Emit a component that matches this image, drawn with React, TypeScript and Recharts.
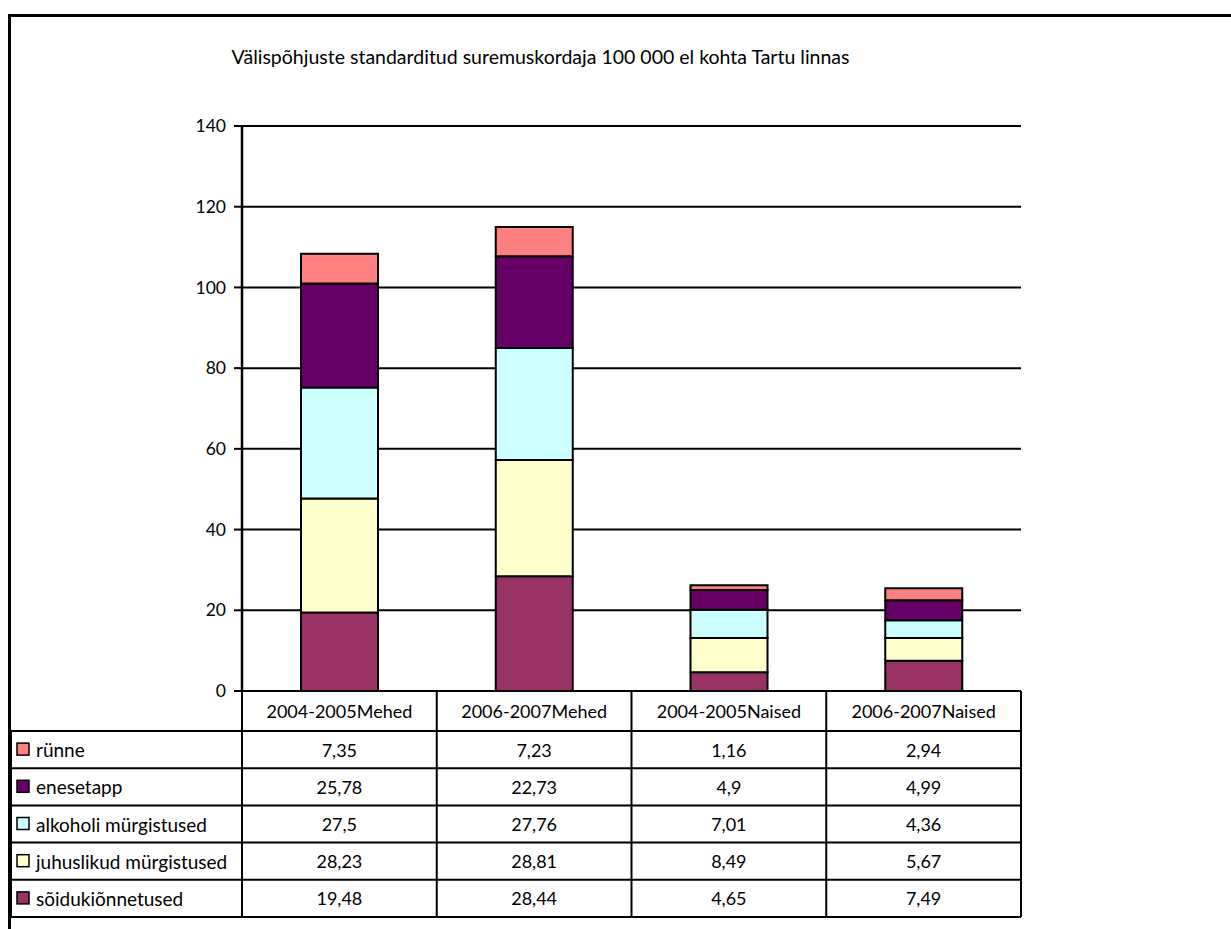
import React from "react";
import { BarChart, Bar, XAxis, YAxis, CartesianGrid } from "recharts";

const categories = ["2004-2005Mehed", "2006-2007Mehed", "2004-2005Naised", "2006-2007Naised"];
const runne = [7.35, 7.23, 1.16, 2.94];
const enesetapp = [25.78, 22.73, 4.9, 4.99];
const alkoholi = [27.5, 27.76, 7.01, 4.36];
const juhuslikud = [28.23, 28.81, 8.49, 5.67];
const soiduki = [19.48, 28.44, 4.65, 7.49];
const yTicks = [0, 20, 40, 60, 80, 100, 120, 140];

const seriesDefs = [
  { key: "runne", label: "rünne", values: runne, color: "#FF8080" },
  { key: "enesetapp", label: "enesetapp", values: enesetapp, color: "#660066" },
  { key: "alkoholi", label: "alkoholi mürgistused", values: alkoholi, color: "#CCFFFF" },
  { key: "juhuslikud", label: "juhuslikud mürgistused", values: juhuslikud, color: "#FFFFCC" },
  { key: "soiduki", label: "sõidukiõnnetused", values: soiduki, color: "#993366" },
];
const stackOrder = ["soiduki", "juhuslikud", "alkoholi", "enesetapp", "runne"];

const data = categories.map((name, i) => {
  const row: Record<string, number | string> = { name };
  seriesDefs.forEach((s) => (row[s.key] = s.values[i]));
  return row;
});

const FONT = "Lato, 'Noto Sans', sans-serif";
const W = 1231;
const H = 929;
const MARGIN = { top: 126, right: 210, bottom: 12, left: 182 };
const Y_AXIS_W = 60;
const X_AXIS_H = 226;
const PLOT_W = W - MARGIN.left - Y_AXIS_W - MARGIN.right;
const COL_W = PLOT_W / categories.length;
const PLOT_BOTTOM = H - MARGIN.bottom - X_AXIS_H;
const HEADER_H = 40;
const ROW_H = (X_AXIS_H - HEADER_H) / seriesDefs.length;
const TABLE_LEFT = 11;
const FS = 18;
const FS_LABEL = 19;

const fmt = (v: number) => String(v).replace(".", ",");

function TableTick(props: any) {
  const { x, payload, index } = props;
  const left = x - COL_W / 2;
  const right = x + COL_W / 2;
  const top = PLOT_BOTTOM;
  const headerBottom = top + HEADER_H;
  const bottom = top + X_AXIS_H;
  const lines: React.ReactNode[] = [];
  for (let r = 0; r <= seriesDefs.length; r++) {
    const yy = headerBottom + r * ROW_H;
    lines.push(
      <line key={"h" + r} x1={index === 0 ? TABLE_LEFT : left} x2={right} y1={yy} y2={yy} stroke="#000" strokeWidth={2} />
    );
  }
  return (
    <g>
      {lines}
      {index === 0 && <line x1={left} x2={left} y1={top} y2={bottom} stroke="#000" strokeWidth={2} />}
      {index === 0 && <line x1={TABLE_LEFT} x2={TABLE_LEFT} y1={headerBottom} y2={bottom} stroke="#000" strokeWidth={2} />}
      <line x1={right} x2={right} y1={top} y2={bottom} stroke="#000" strokeWidth={2} />
      <text x={x} y={top + HEADER_H / 2} textAnchor="middle" dominantBaseline="central" fontSize={FS} fontFamily={FONT} fill="#000">
        {payload.value}
      </text>
      {seriesDefs.map((s, r) => (
        <text key={s.key} x={x} y={headerBottom + r * ROW_H + ROW_H / 2} textAnchor="middle" dominantBaseline="central" fontSize={FS} fontFamily={FONT} fill="#000">
          {fmt(s.values[index])}
        </text>
      ))}
      {index === 0 &&
        seriesDefs.map((s, r) => {
          const cy = headerBottom + r * ROW_H + ROW_H / 2;
          return (
            <g key={"l" + s.key}>
              <rect x={17} y={cy - 6.5} width={12} height={12} fill={s.color} stroke="#000" strokeWidth={1.5} />
              <text x={36} y={cy} dominantBaseline="central" fontSize={FS_LABEL} fontFamily={FONT} fill="#000">
                {s.label}
              </text>
            </g>
          );
        })}
    </g>
  );
}

export default function App() {
  return (
    <div style={{ position: "absolute", left: 0, top: 0, width: W, height: H, background: "#fff", overflow: "hidden" }}>
      <div
        style={{
          position: "absolute",
          left: 8,
          top: 14,
          width: W,
          height: H,
          borderLeft: "3px solid #000",
          borderTop: "3px solid #000",
        }}
      />
      <div
        style={{
          position: "absolute",
          left: 0,
          width: 1081,
          top: 45,
          textAlign: "center",
          fontFamily: FONT,
          fontSize: 19.5,
          lineHeight: "24px",
          color: "#000",
          whiteSpace: "nowrap",
        }}
      >
        Välispõhjuste standarditud suremuskordaja 100 000 el kohta Tartu linnas
      </div>
      <div style={{ position: "absolute", left: 0, top: 0 }}>
        <BarChart width={W} height={H} data={data} margin={MARGIN} barSize={77}>
          <CartesianGrid yAxisId="left" vertical={false} stroke="#000" strokeWidth={2} />
          <XAxis
            dataKey="name"
            height={X_AXIS_H}
            interval={0}
            tickLine={false}
            axisLine={{ stroke: "#000", strokeWidth: 2 }}
            tick={(p: any) => <TableTick {...p} />}
          />
          <YAxis
            yAxisId="left"
            width={Y_AXIS_W}
            domain={[0, 140]}
            ticks={yTicks}
            interval={0}
            tickSize={8}
            tickMargin={8}
            axisLine={{ stroke: "#000", strokeWidth: 2.5 }}
            tickLine={{ stroke: "#000", strokeWidth: 2 }}
            tick={{ fill: "#000", fontSize: 17.5, fontFamily: FONT }}
          />
          <YAxis
            yAxisId="right"
            orientation="right"
            width={0}
            domain={[0, 140]}
            tick={false}
            tickLine={false}
            axisLine={{ stroke: "#000", strokeWidth: 2 }}
          />
          {stackOrder.map((k) => {
            const s = seriesDefs.find((d) => d.key === k)!;
            return (
              <Bar
                key={k}
                yAxisId="left"
                dataKey={k}
                stackId="a"
                fill={s.color}
                stroke="#000"
                strokeWidth={2}
                isAnimationActive={false}
              />
            );
          })}
        </BarChart>
      </div>
    </div>
  );
}
